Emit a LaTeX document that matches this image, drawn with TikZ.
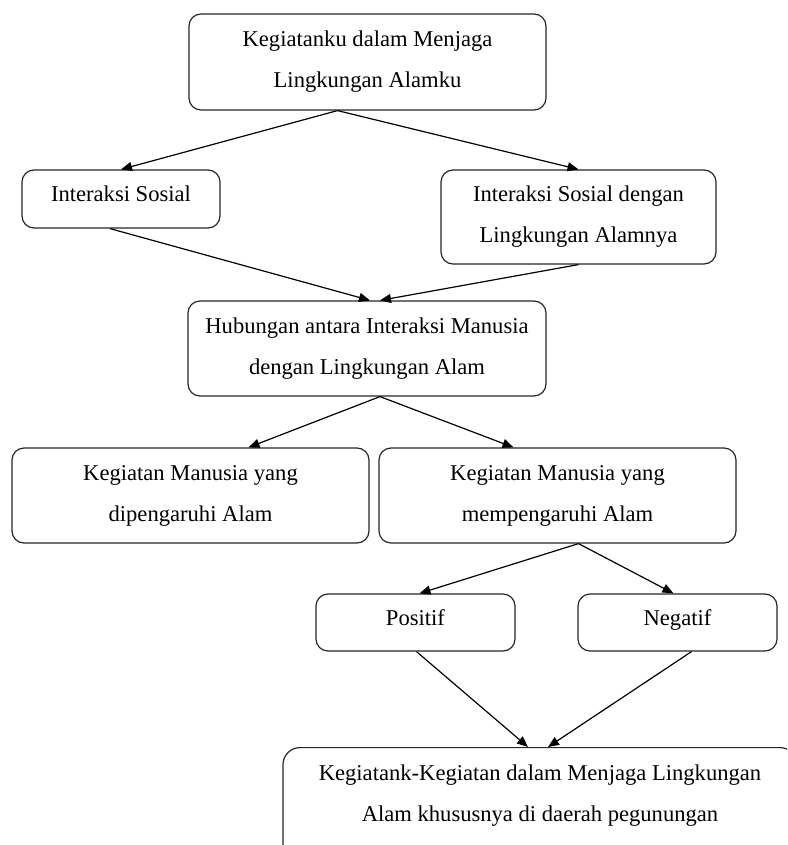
\documentclass[tikz,border=0pt]{standalone}
\usepackage{fontspec}
\setmainfont{Liberation Serif}
\usetikzlibrary{arrows.meta}

\begin{document}
\begin{tikzpicture}[x=1pt,y=-1pt,
  kotak/.style={draw=black!85, line width=1.2pt, rounded corners=12pt, align=center,
    inner sep=0pt, font=\fontsize{22.6}{41}\selectfont},
  satu/.style={text depth=10pt},
  panah/.style={-{Triangle[length=11pt,width=9pt]}, line width=1.2pt}]
        \useasboundingbox (0,0) rectangle (787,845);
        \clip (0,0) rectangle (787,845);

        % Kotak paling atas
        \node[kotak, minimum width=357pt, minimum height=96pt] (atas) at (367.5,62)
          {Kegiatanku dalam Menjaga\\Lingkungan Alamku};

        % Dua jenis interaksi
        \node[kotak, satu, minimum width=198pt, minimum height=58pt] (sosial) at (121,199) {Interaksi Sosial};
        \node[kotak, minimum width=275pt, minimum height=94pt] (sosalam) at (578.5,217)
          {Interaksi Sosial dengan\\Lingkungan Alamnya};
        \node[kotak, minimum width=358pt, minimum height=95pt] (hubungan) at (367,348.5)
          {Hubungan antara Interaksi Manusia\\dengan Lingkungan Alam};

        % Kegiatan manusia
        \node[kotak, minimum width=357pt, minimum height=95pt] (dipeng) at (190.5,495.5)
          {Kegiatan Manusia yang\\dipengaruhi Alam};
        \node[kotak, minimum width=357pt, minimum height=95pt] (mempeng) at (557.5,495.5)
          {Kegiatan Manusia yang\\mempengaruhi Alam};
        \node[kotak, satu, minimum width=199pt, minimum height=57pt] (positif) at (415.5,622.5) {Positif};
        \node[kotak, satu, minimum width=199pt, minimum height=57pt] (negatif) at (677.5,622.5) {Negatif};

        % Kotak bawah (terpotong)
        \node[kotak, rounded corners=17pt, anchor=north, minimum width=514pt,
          text height=73.5pt, text depth=45pt] (jaga) at (540,747)
          {Kegiatank-Kegiatan dalam Menjaga Lingkungan\\Alam khususnya di daerah pegunungan};

        % Panah
        \draw[panah] ([xshift=-30pt]atas.south) -- (sosial.north);
        \draw[panah] ([xshift=-30pt]atas.south) -- (sosalam.north);
        \draw[panah] ([xshift=-11pt]sosial.south) -- ([xshift=3pt]hubungan.north);
        \draw[panah] (sosalam.south) -- ([xshift=13pt]hubungan.north);
        \draw[panah] ([xshift=13pt]hubungan.south) -- ([xshift=58pt]dipeng.north);
        \draw[panah] ([xshift=13pt]hubungan.south) -- ([xshift=-44pt]mempeng.north);
        \draw[panah] ([xshift=21pt]mempeng.south) -- ([xshift=4pt]positif.north);
        \draw[panah] ([xshift=21pt]mempeng.south) -- ([xshift=-4pt]negatif.north);
        \draw[panah] ([xshift=1pt]positif.south) -- ([xshift=-12pt]jaga.north);
        \draw[panah] ([xshift=14pt]negatif.south) -- ([xshift=8pt]jaga.north);
\end{tikzpicture}
\end{document}
